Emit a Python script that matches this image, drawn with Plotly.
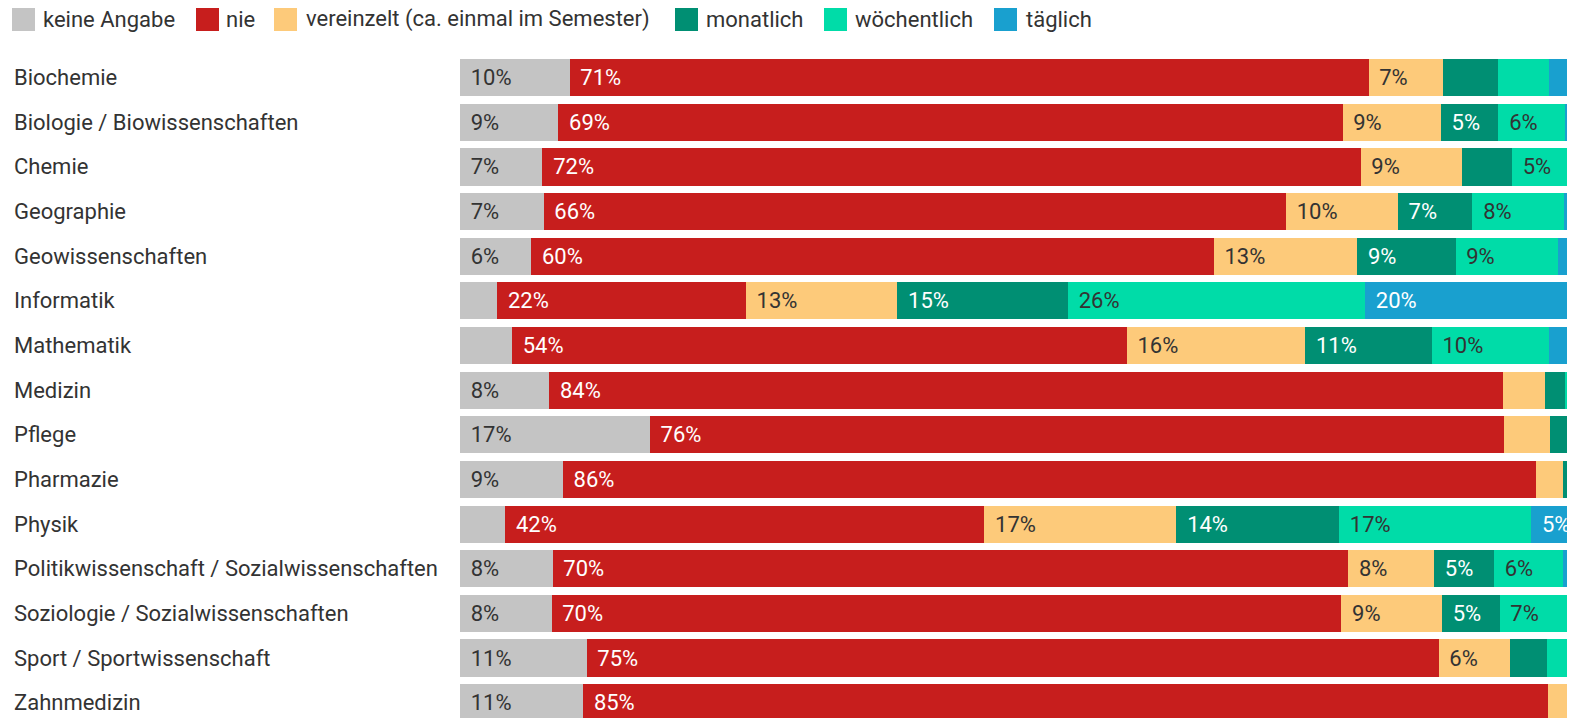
import plotly.graph_objects as go

categories = [
    "Biochemie", "Biologie / Biowissenschaften", "Chemie", "Geographie",
    "Geowissenschaften", "Informatik", "Mathematik", "Medizin", "Pflege",
    "Pharmazie", "Physik", "Politikwissenschaft / Sozialwissenschaften",
    "Soziologie / Sozialwissenschaften", "Sport / Sportwissenschaft", "Zahnmedizin",
]
series_names = ["keine Angabe", "nie", "vereinzelt (ca. einmal im Semester)",
                "monatlich", "wöchentlich", "täglich"]
keine_angabe = [9.7, 8.7, 7.3, 7.4, 6.3, 3.3, 4.6, 7.9, 16.8, 9.1, 4.0, 8.2, 8.1, 11.2, 10.9]
nie = [70.7, 69.4, 72.4, 65.7, 60.4, 22.0, 54.4, 84.4, 75.6, 86.1, 42.4, 70.4, 69.9, 75.4, 85.4]
vereinzelt = [6.6, 8.7, 9.0, 9.9, 12.7, 13.4, 15.8, 3.7, 4.1, 2.4, 17.0, 7.6, 8.9, 6.3, 1.8]
monatlich = [4.9, 5.1, 4.4, 6.6, 8.7, 15.1, 11.2, 1.8, 2.0, 1.4, 14.4, 5.3, 5.1, 3.3, 1.0]
woechentlich = [4.5, 5.9, 5.0, 8.1, 9.1, 26.3, 10.4, 1.2, 0.8, 0.6, 17.0, 6.1, 6.6, 3.0, 0.5]
taeglich = [3.6, 2.2, 1.9, 2.3, 2.8, 19.9, 3.6, 1.0, 0.7, 0.4, 5.2, 2.4, 1.4, 0.8, 0.4]

series_values = [keine_angabe, nie, vereinzelt, monatlich, woechentlich, taeglich]
colors = ["#c4c4c4", "#c71e1d", "#fdca7a", "#008f73", "#00dca8", "#19a0cf"]
text_colors = ["#333333", "#ffffff", "#333333", "#ffffff", "#333333", "#ffffff"]

FONT = "Roboto, 'Open Sans', sans-serif"
FS = 22
# page has an 8px body margin
W, H = 1575, 710
ML, MT = 452, 47
PW, PH = W - ML, H - MT
ROW = 44.64           # pixels per category slot
FIRST = 69.7          # figure-pixel centre of first row

fig = go.Figure()
for name, vals, col, tcol in zip(series_names, series_values, colors, text_colors):
    labels = ["\u00a0\u200a" + f"{round(v)}%" if v >= 5 else "" for v in vals]
    fig.add_trace(go.Bar(
        y=categories, x=vals, name=name, orientation="h",
        marker=dict(color=col, line=dict(width=0)),
        text=labels, textposition="inside", insidetextanchor="start",
        textangle=0, insidetextfont=dict(color=tcol, size=FS, family=FONT),
        showlegend=False, hoverinfo="skip",
    ))

# category labels (left aligned)
for c in categories:
    fig.add_annotation(x=(4 - ML) / PW, xref="paper", y=c, yref="y",
                       text=c, showarrow=False, xanchor="left", yanchor="middle",
                       font=dict(size=FS, color="#333333", family=FONT))

# legend drawn manually (figure pixel positions)
sq_x = [4, 188, 266, 667, 816, 986]
tx_x = [33, 216, 296, 696, 845, 1016]
def px_x(p):
    return (p - ML) / PW
def px_y(p):
    return (H - p) / PH
for name, col, sx, tx in zip(series_names, colors, sq_x, tx_x):
    fig.add_shape(type="rect", xref="paper", yref="paper",
                  x0=px_x(sx), x1=px_x(sx + 23), y0=px_y(23), y1=px_y(0),
                  fillcolor=col, line=dict(width=0))
    fig.add_annotation(x=px_x(tx), y=px_y(11.5), xref="paper", yref="paper",
                       text=name, showarrow=False, xanchor="left", yanchor="middle",
                       font=dict(size=FS, color="#333333", family=FONT))

fig.update_layout(
    barmode="stack", bargap=0.17,
    width=W, height=H,
    margin=dict(l=ML, r=0, t=MT, b=0, pad=0),
    plot_bgcolor="white", paper_bgcolor="white",
    xaxis=dict(range=[0, PW / 11.3], visible=False, fixedrange=True),
    yaxis=dict(range=[(H - FIRST) / ROW, (MT - FIRST) / ROW], autorange=False,
               showticklabels=False, showgrid=False, zeroline=False,
               fixedrange=True, type="category"),
    uniformtext=dict(minsize=FS, mode="hide"),
    font=dict(family=FONT),
)
fig.write_html("out.html", config={"displayModeBar": False})
